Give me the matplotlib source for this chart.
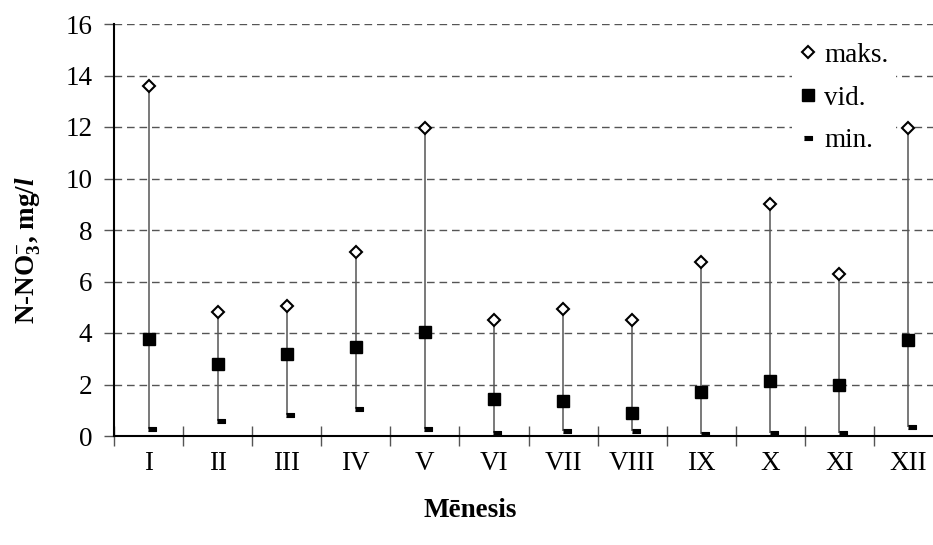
import matplotlib
matplotlib.use('Agg')
import matplotlib.pyplot as plt
import matplotlib.transforms as mtransforms
from matplotlib.lines import Line2D
import numpy as np

plt.rcParams['font.family'] = ['Liberation Serif', 'DejaVu Serif']
plt.rcParams['mathtext.fontset'] = 'custom'
plt.rcParams['mathtext.rm'] = 'Liberation Serif:bold'
plt.rcParams['mathtext.bf'] = 'Liberation Serif:bold'
plt.rcParams['mathtext.it'] = 'Liberation Serif:italic:bold'
plt.rcParams['mathtext.bfit'] = 'Liberation Serif:italic:bold'

# mēneši un N-NO3 koncentrācijas (mg/l)
menesi = ['I', 'II', 'III', 'IV', 'V', 'VI', 'VII', 'VIII', 'IX', 'X', 'XI', 'XII']
maks = [13.6, 4.8, 5.05, 7.15, 11.95, 4.5, 4.95, 4.5, 6.75, 9.0, 6.3, 11.95]
vid = [3.77, 2.78, 3.17, 3.47, 4.05, 1.45, 1.37, 0.9, 1.7, 2.15, 2.0, 3.72]
mini = [0.28, 0.6, 0.83, 1.06, 0.28, 0.12, 0.21, 0.21, 0.07, 0.13, 0.13, 0.36]

fs = 19.5
fig = plt.figure(figsize=(9.33, 5.45), dpi=100)
ax = fig.add_axes([114 / 933, 1 - 436 / 545, 829 / 933, 412 / 545])

x = np.arange(len(menesi)) + 0.5

ax.set_axisbelow(True)
ax.yaxis.grid(True, color='#555555', lw=1, linestyle=(0, (5.5, 3.5)))

ax.vlines(x, mini, maks, color='#555555', lw=1.1, zorder=2)
ax.plot(x, maks, linestyle='none', marker='D', ms=6.5, mfc='white', mec='black',
        mew=1.5, zorder=3)
ax.plot(x, vid, linestyle='none', marker='s', ms=8.5, mfc='black', mec='black', zorder=3)

dash = [(-1, -0.4), (1, -0.4), (1, 0.4), (-1, 0.4)]
shift = mtransforms.ScaledTranslation(3.5 / 100, 0, fig.dpi_scale_trans)
ax.plot(x, mini, linestyle='none', marker=dash, ms=6, mfc='black', mec='black', mew=0.8,
        transform=ax.transData + shift, zorder=3)

ax.set_xlim(0, 12)
ax.set_ylim(0, 16)
ax.set_yticks(np.arange(0, 17, 2))
ax.set_xticks(np.arange(0, 13), labels=[''] * 13)
ax.set_xticks(x, labels=menesi, minor=True)

ax.tick_params(axis='y', direction='out', length=7.5, width=1, color='#555555',
               labelsize=fs, pad=8)
ax.tick_params(axis='x', which='major', direction='inout', length=14.5, width=1,
               color='#555555')
ax.tick_params(axis='x', which='minor', length=0, labelsize=fs, pad=11)

for s in ['top', 'right']:
    ax.spines[s].set_visible(False)
for s in ['left', 'bottom']:
    ax.spines[s].set_linewidth(1.5)

ax.set_xlabel('Mēnesis', fontsize=fs, fontweight='bold')
ax.xaxis.set_label_coords((470 - 114) / 829, -0.15)
fig.text(28 / 933, 1 - 250 / 545, r'N-NO$_3^{-}$, mg/$\mathit{l}$', rotation=90,
         fontsize=fs, fontweight='bold', ha='center', va='center')

handles = [
    Line2D([], [], linestyle='none', marker='D', ms=6, mfc='white', mec='black', mew=1.5),
    Line2D([], [], linestyle='none', marker='s', ms=8, mfc='black', mec='black'),
    Line2D([], [], linestyle='none', marker=dash, ms=6, mfc='black', mec='black', mew=0.8),
]
leg = ax.legend(handles, ['maks.', 'vid.', 'min.'], loc='upper left',
                bbox_to_anchor=(778 / 933, 1 - 21 / 545), bbox_transform=fig.transFigure,
                frameon=True, fontsize=fs, handlelength=0.6, handletextpad=0.3,
                labelspacing=0.66, borderpad=0.3, fancybox=False)
leg.get_frame().set_edgecolor('none')
leg.get_frame().set_facecolor('white')
leg.get_frame().set_alpha(1)

fig.savefig('out.png', dpi=100)
